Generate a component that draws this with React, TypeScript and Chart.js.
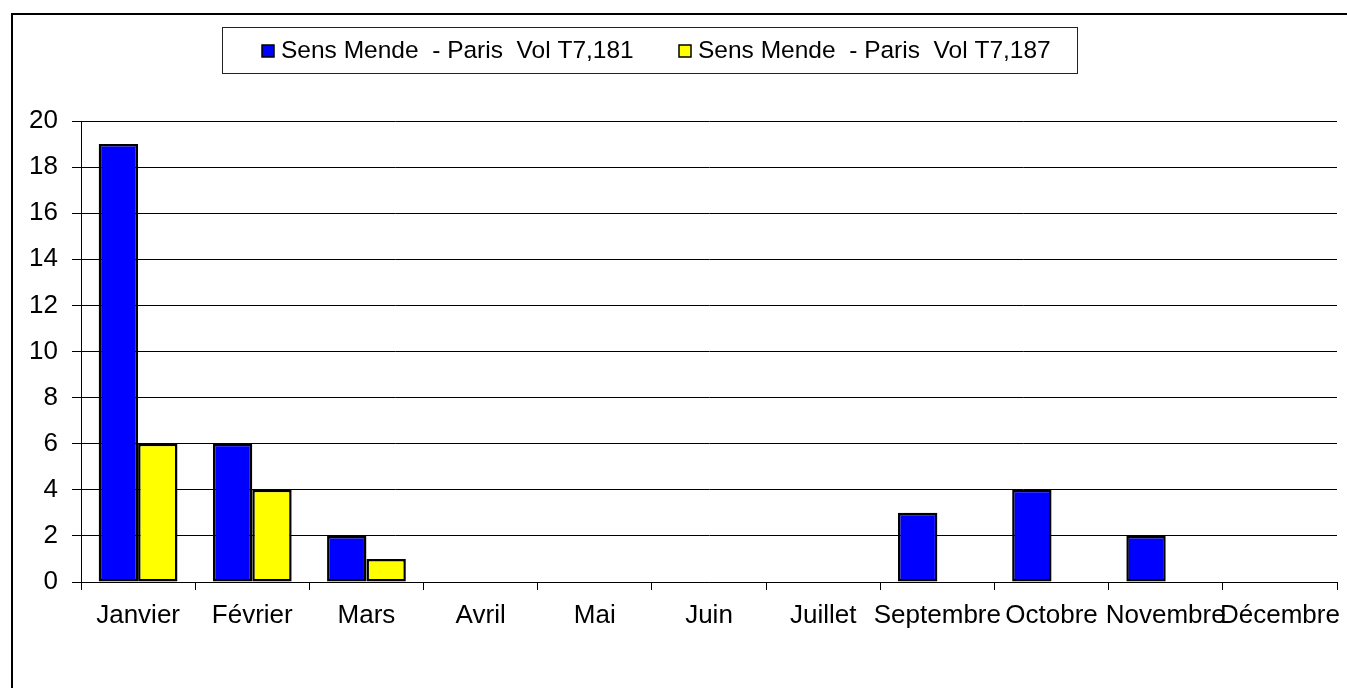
import React, { useEffect, useRef } from "react";
import { Chart, registerables } from "chart.js";

Chart.register(...registerables);

const months = ["Janvier", "Février", "Mars", "Avril", "Mai", "Juin", "Juillet", "Septembre", "Octobre", "Novembre", "Décembre"];
const vol181 = [19, 6, 2, 0, 0, 0, 0, 3, 4, 2, 0];
const vol187 = [6, 4, 1, 0, 0, 0, 0, 0, 0, 0, 0];
const seriesLabels = ["Sens Mende  - Paris  Vol T7,181", "Sens Mende  - Paris  Vol T7,187"];
const yTicks = [0, 2, 4, 6, 8, 10, 12, 14, 16, 18, 20];

const FONT = "'Liberation Sans', Arial, sans-serif";

const framePlugin = {
  id: "frameAndLegend",
  beforeDraw(chart: any) {
    const ctx = chart.ctx;
    ctx.save();
    ctx.fillStyle = "#fff";
    ctx.fillRect(0, 0, chart.width, chart.height);
    ctx.strokeStyle = "#000";
    ctx.lineWidth = 2;
    ctx.beginPath();
    ctx.moveTo(12, chart.height);
    ctx.lineTo(12, 14);
    ctx.lineTo(chart.width, 14);
    ctx.stroke();
    ctx.restore();
  },
  afterDraw(chart: any) {
    const ctx = chart.ctx;
    ctx.save();
    ctx.strokeStyle = "#222";
    ctx.lineWidth = 1;
    ctx.strokeRect(222.5, 27.5, 855, 46);
    ctx.font = `24.5px ${FONT}`;
    ctx.textBaseline = "middle";
    const starts = [262, 679];
    chart.data.datasets.forEach((ds: any, i: number) => {
      const x = starts[i];
      ctx.fillStyle = ds.backgroundColor;
      ctx.fillRect(x, 45, 12, 12);
      ctx.strokeStyle = "#000";
      ctx.lineWidth = 1.5;
      ctx.strokeRect(x, 45, 12, 12);
      ctx.fillStyle = "#000";
      ctx.fillText(ds.label, x + 19, 51);
    });
    ctx.restore();
  },
};

export default function App() {
  const ref = useRef<HTMLCanvasElement>(null);
  useEffect(() => {
    document.body.style.margin = "0";
    const chart = new Chart(ref.current!, {
      type: "bar",
      data: {
        labels: months,
        datasets: [
          { label: seriesLabels[0], data: vol181, backgroundColor: "#0000FF", borderColor: "#000", borderWidth: 2.5, borderSkipped: false },
          { label: seriesLabels[1], data: vol187, backgroundColor: "#FFFF00", borderColor: "#000", borderWidth: 2.5, borderSkipped: false },
        ],
      },
      options: {
        animation: false,
        responsive: false,
        devicePixelRatio: 1,
        layout: { padding: { top: 121, left: 0, right: 10, bottom: 0 } },
        plugins: { legend: { display: false }, tooltip: { enabled: false } },
        datasets: { bar: { categoryPercentage: 0.69, barPercentage: 1 } },
        scales: {
          x: {
            afterFit: (s: any) => { s.height = 106; s.paddingLeft = 0; s.paddingRight = 0; },
            grid: { drawOnChartArea: false, drawTicks: true, tickLength: 8, color: "#000", offset: true },
            border: { color: "#000", width: 1 },
            ticks: { autoSkip: false, maxRotation: 0, minRotation: 0, padding: 10, color: "#000", font: { family: FONT, size: 26 } },
          },
          y: {
            min: 0,
            max: 20,
            afterFit: (s: any) => { s.width = 81; },
            afterBuildTicks: (s: any) => { s.ticks = yTicks.map((v) => ({ value: v })); },
            grid: { color: "#000", lineWidth: 1, tickLength: 9 },
            border: { color: "#000", width: 1 },
            ticks: { padding: 14, color: "#000", font: { family: FONT, size: 26 } },
          },
        },
      },
      plugins: [framePlugin],
    });
    return () => chart.destroy();
  }, []);
  return (
    <div style={{ position: "absolute", left: 0, top: 0, width: 1347, height: 688 }}>
      <canvas ref={ref} width={1347} height={688} style={{ width: 1347, height: 688, display: "block" }} />
    </div>
  );
}
